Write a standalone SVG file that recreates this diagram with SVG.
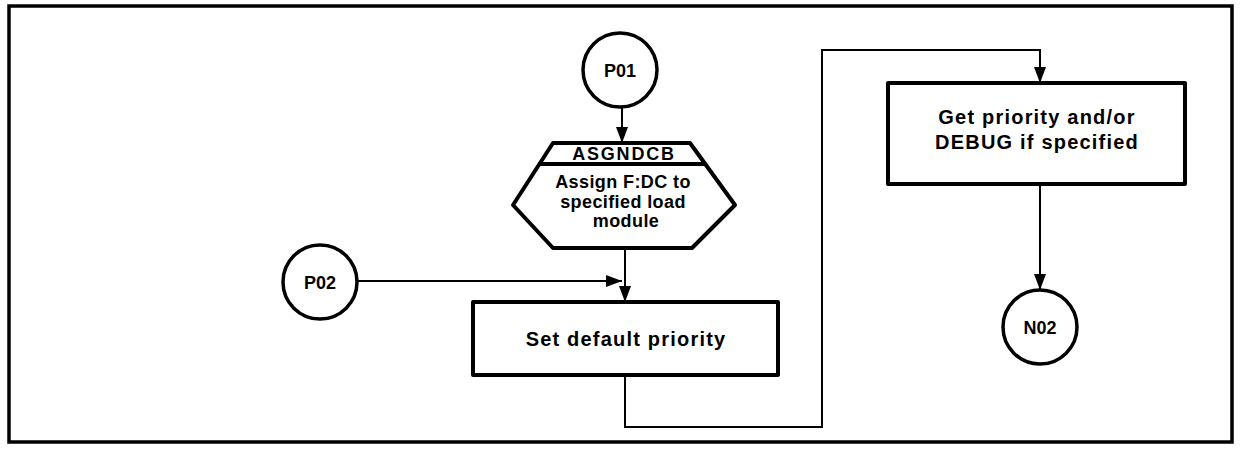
<svg xmlns="http://www.w3.org/2000/svg" width="1241" height="451" viewBox="0 0 1241 451">
  <style>
    .frame { fill: none; stroke: #000; stroke-width: 3.5; }
    .box { fill: #fff; stroke: #000; stroke-width: 4; stroke-linejoin: round; }
    .term { fill: #fff; stroke: #000; stroke-width: 3.5; }
    .flow { fill: none; stroke: #000; stroke-width: 2; }
    text { font-family: "Liberation Sans", Arial, sans-serif; font-weight: bold; font-size: 18px; fill: #000; text-anchor: middle; }
    .big { font-size: 20px; letter-spacing: 1.2px; }
    .hex { letter-spacing: 0.4px; }
    .head { letter-spacing: 1.8px; }
  </style>
  <defs>
    <marker id="arrow" markerUnits="userSpaceOnUse" markerWidth="16" markerHeight="12" refX="16" refY="6" orient="auto">
      <path d="M0,0 L16,6 L0,12 Z" fill="#000"/>
    </marker>
  </defs>

  <rect width="1241" height="451" fill="#fff"/>
  <rect class="frame" x="9" y="6" width="1223" height="436"/>

  <!-- connectors -->
  <g id="connectors">
    <line class="flow" x1="622" y1="107" x2="622" y2="143" marker-end="url(#arrow)"/>
    <line class="flow" x1="357" y1="281" x2="622" y2="281" marker-end="url(#arrow)"/>
    <line class="flow" x1="625" y1="248" x2="625" y2="302" marker-end="url(#arrow)"/>
    <polyline class="flow" points="625,375 625,427 822,427 822,50 1040,50 1040,83" marker-end="url(#arrow)"/>
    <line class="flow" x1="1040" y1="184" x2="1040" y2="290" marker-end="url(#arrow)"/>
  </g>

  <g id="P01">
    <circle class="term" cx="620" cy="70" r="37"/>
    <text x="620" y="77">P01</text>
  </g>

  <g id="ASGNDCB">
    <path class="box" d="M553,143 L690,143 L735,205 L692,248 L553,248 L513,205 Z"/>
    <line class="box" x1="538" y1="164" x2="705" y2="164"/>
    <text class="head" x="624" y="160">ASGNDCB</text>
    <text class="hex" x="623" y="188">Assign F:DC to</text>
    <text class="hex" x="623" y="208">specified load</text>
    <text class="hex" x="626" y="227">module</text>
  </g>

  <g id="P02">
    <circle class="term" cx="320" cy="282" r="37"/>
    <text x="320" y="289">P02</text>
  </g>

  <g id="set-default">
    <rect class="box" x="473" y="302" width="305" height="73"/>
    <text class="big" x="626" y="346">Set default priority</text>
  </g>

  <g id="get-priority">
    <rect class="box" x="888" y="83" width="297" height="101"/>
    <text class="big" x="1037" y="124">Get priority and/or</text>
    <text class="big" x="1037" y="149">DEBUG if specified</text>
  </g>

  <g id="N02">
    <circle class="term" cx="1040" cy="327" r="37"/>
    <text x="1040" y="334">N02</text>
  </g>
</svg>
